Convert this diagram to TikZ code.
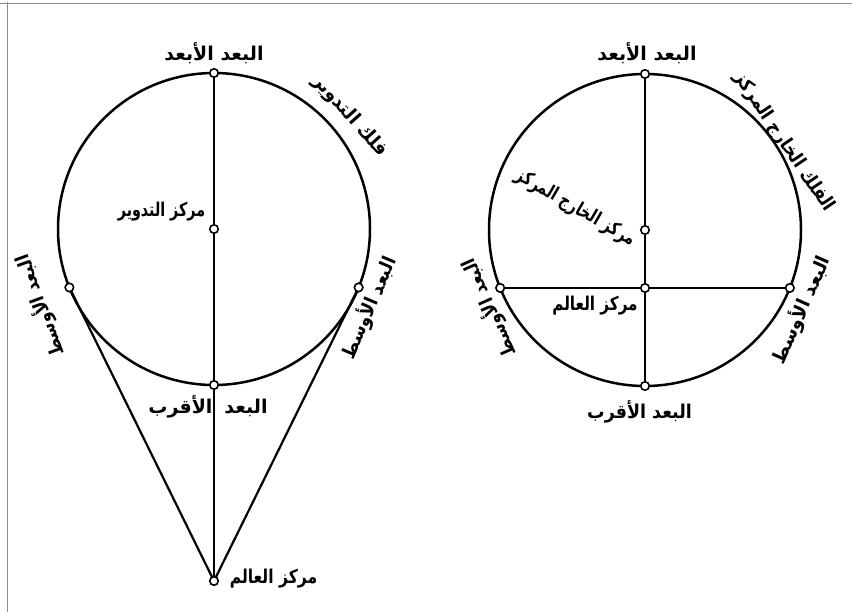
\documentclass[tikz,border=0pt]{standalone}
\usepackage{fontspec}
\usetikzlibrary{calc}
\newfontfamily\arabicfont[Script=Arabic]{DejaVu Sans}
\TeXXeTstate=1
\begin{document}
\begin{tikzpicture}[x=1pt,y=-1pt,
  orb/.style={line width=2.5pt},
  ln/.style={line width=2.2pt},
  mk/.style={circle,draw,fill=white,line width=1.6pt,minimum size=8.5pt,inner sep=0pt},
  lab/.style={font=\arabicfont\bfseries\fontsize{19}{21}\selectfont,inner sep=0pt},
  frame/.style={black!45,line width=0.8pt}]
\useasboundingbox (0,0) rectangle (852,616);
\fill[white] (0,0) rectangle (852,616);
% scan frame edges
\draw[frame] (7,2) -- (7,612);
\draw[frame] (0,3) -- (852,3);
% ---------- left diagram (epicycle) ----------
\coordinate (lC) at (214,229);
\coordinate (lA) at ($(lC)+(90:156pt)$);
\coordinate (lP) at ($(lC)+(270:156pt)$);
\coordinate (lL) at ($(lC)+(202:156pt)$);
\coordinate (lR) at ($(lC)+(-22:156pt)$);
\coordinate (lE) at (214,581);
\draw[orb] (lC) circle[radius=156pt];
\draw[ln] (lA) -- (lE);
\draw[ln] (lE) -- (lL);
\draw[ln] (lE) -- (lR);
\node[mk] (mlA) at (lA) {};
\node[mk] (mlC) at (lC) {};
\node[mk] (mlP) at (lP) {};
\node[mk] (mlL) at (lL) {};
\node[mk] (mlR) at (lR) {};
\node[mk] (mlE) at (lE) {};
\node[lab] (tlA) at (214,53) {\beginR البعد الأبعد\endR};
\node[lab,rotate=-48] (tlD) at (350,116) {\scalebox{0.95}[1]{\beginR فلك التدوير\endR}};
\node[lab] (tlC) at (161.5,212) {\scalebox{0.75}[1]{\beginR مركز التدوير\endR}};
\node[lab,rotate=110] (tlL) at (40,306) {\scalebox{0.88}[1]{\beginR البعد الأوسط\endR}};
\node[lab,rotate=67] (tlR) at (369,308) {\scalebox{0.9}[1]{\beginR البعد الأوسط\endR}};
\node[lab] (tlP) at (208,407) {\beginR البعد\hspace{12pt}الأقرب\endR};
\node[lab] (tlE) at (273.5,579) {\scalebox{0.82}[1]{\beginR مركز العالم\endR}};
% ---------- right diagram (eccentric) ----------
\coordinate (rC) at (645,230);
\coordinate (rA) at ($(rC)+(90:156pt)$);
\coordinate (rP) at ($(rC)+(270:156pt)$);
\coordinate (rE) at (645,288);
\coordinate (rL) at ($(rC)+(201.8:156pt)$);
\coordinate (rR) at ($(rC)+(-21.8:156pt)$);
\draw[orb] (rC) circle[radius=156pt];
\draw[ln] (rA) -- (rP);
\draw[ln] (rL) -- (rR);
\node[mk] (mrA) at (rA) {};
\node[mk] (mrC) at (rC) {};
\node[mk] (mrP) at (rP) {};
\node[mk] (mrE) at (rE) {};
\node[mk] (mrL) at (rL) {};
\node[mk] (mrR) at (rR) {};
\node[lab] (trA) at (647,53) {\beginR البعد الأبعد\endR};
\node[lab,rotate=-56] (trD) at (784,142) {\scalebox{0.88}[1]{\beginR الفلك الخارج المركز\endR}};
\node[lab,rotate=-30] (trC) at (575,208) {\scalebox{0.75}[1]{\beginR مركز الخارج المركز\endR}};
\node[lab] (trE) at (595,306) {\scalebox{0.8}[1]{\beginR مركز العالم\endR}};
\node[lab,rotate=114] (trL) at (489,308) {\scalebox{0.87}[1]{\beginR البعد الأوسط\endR}};
\node[lab,rotate=66] (trR) at (801,310) {\scalebox{0.95}[1]{\beginR البعد الأوسط\endR}};
\node[lab] (trP) at (639.5,412) {\scalebox{0.92}[1]{\beginR البعد الأقرب\endR}};
\end{tikzpicture}
\end{document}
